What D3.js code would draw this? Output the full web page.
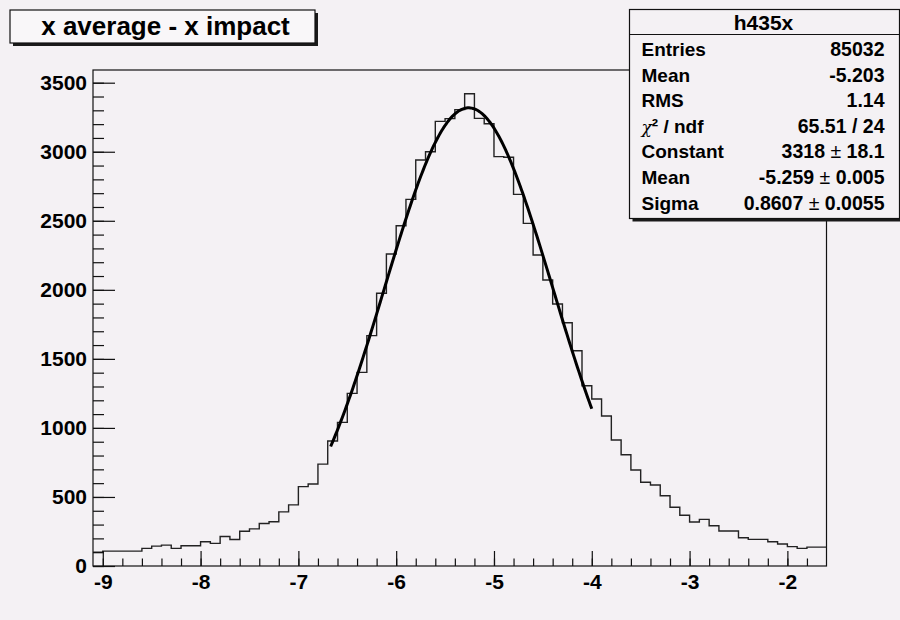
<!DOCTYPE html>
<html><head><meta charset="utf-8">
<script src="https://cdn.jsdelivr.net/npm/d3@7"></script>
<style>
html,body{margin:0;padding:0;background:#f4f1f4;}
svg{display:block;font-family:"Liberation Sans",Arial,Helvetica,sans-serif;font-weight:bold;}
</style></head><body>
<svg id="c" width="900" height="620"></svg>
<script>
// ---------- data ----------
const title = "x average - x impact";
const histName = "h435x";
const binLow = -9.1;
const binWidth = 0.1;
const counts = [
  100, 108, 108, 108, 108, 128, 144, 151, 128, 147,
  147, 176, 164, 214, 192, 252, 269, 308, 320, 392,
  443, 575, 594, 738, 905, 1040, 1250, 1402, 1668, 1975,
  2259, 2464, 2655, 2940, 3000, 3220, 3240, 3305, 3420, 3242,
  3203, 2965, 2960, 2691, 2481, 2252, 2071, 1897, 1762, 1559,
  1305, 1209, 1086, 912, 806, 695, 606, 587, 509, 425,
  367, 319, 338, 292, 253, 253, 205, 193, 193, 176,
  159, 140, 128, 137, 137
];
const xDomain = [-9.1, -1.6];
const yDomain = [0, 3592];
const xMajorTicks = [-9, -8, -7, -6, -5, -4, -3, -2];
const xMinorTicks = d3.range(-9, -1.6, 0.2).map(v => +v.toFixed(1));
const yMajorTicks = [0, 500, 1000, 1500, 2000, 2500, 3000, 3500];
const yMinorTicks = d3.range(0, 3600, 100);
const statLabels = ["Entries", "Mean", "RMS", "χ² / ndf", "Constant", "Mean", "Sigma"];
const statValues = ["85032", "-5.203", "1.14", "65.51 / 24", "3318 ± 18.1", "-5.259 ± 0.005", "0.8607 ± 0.0055"];
const fitParams = [3318, -5.259, 0.8607]; // constant, mean, sigma
const fitRange = [-6.67, -4.0];

// ---------- layout ----------
const F = {left: 93, right: 826.5, top: 70, bottom: 566};
const svg = d3.select("#c");
const bg = "#f4f1f4";
const ink = "#111";

const x = d3.scaleLinear().domain(xDomain).range([F.left, F.right]);
const y = d3.scaleLinear().domain(yDomain).range([F.bottom, F.top]);

// frame
svg.append("rect").attr("x", F.left).attr("y", F.top)
  .attr("width", F.right - F.left).attr("height", F.bottom - F.top)
  .attr("fill", bg).attr("stroke", ink).attr("stroke-width", 1.2);

// histogram step outline
const bins = counts.map((c, i) => ({x0: binLow + i * binWidth, x1: binLow + (i + 1) * binWidth, c}));
let p = d3.path();
bins.forEach((b, i) => {
  if (i === 0) p.moveTo(x(b.x0), y(b.c)); else p.lineTo(x(b.x0), y(b.c));
  p.lineTo(x(b.x1), y(b.c));
});
svg.append("path").attr("d", p.toString()).attr("fill", "none")
  .attr("stroke", "#222").attr("stroke-width", 1.4);

// fit curve
const gauss = v => fitParams[0] * Math.exp(-0.5 * Math.pow((v - fitParams[1]) / fitParams[2], 2));
const fitXs = d3.range(0, 201).map(k => fitRange[0] + (fitRange[1] - fitRange[0]) * k / 200);
svg.append("path").datum(fitXs)
  .attr("d", d3.line().x(v => x(v)).y(v => y(gauss(v))))
  .attr("fill", "none").attr("stroke", "#000").attr("stroke-width", 3);

// axes
const fs = 21;
const noLabel = () => "";
const fmt = d => String(d);
const gx = svg.append("g").attr("transform", `translate(0,${F.bottom})`);
gx.append("g").call(d3.axisBottom(x).tickValues(xMinorTicks).tickSize(-7.5).tickFormat(noLabel));
gx.append("g").call(d3.axisBottom(x).tickValues(xMajorTicks).tickSize(-15).tickPadding(8).tickFormat(fmt));
const gy = svg.append("g").attr("transform", `translate(${F.left},0)`);
gy.append("g").call(d3.axisLeft(y).tickValues(yMinorTicks).tickSize(-11).tickFormat(noLabel));
gy.append("g").call(d3.axisLeft(y).tickValues(yMajorTicks).tickSize(-22).tickPadding(6).tickFormat(fmt));
svg.selectAll(".domain").remove();
svg.selectAll(".tick line").attr("stroke", ink).attr("stroke-width", 1.2);
svg.selectAll(".tick text").attr("fill", "#000").style("font-size", fs + "px")
  .style("font-weight", "bold").style("font-family", '"Liberation Sans",Arial,sans-serif');

// title box
const tb = {x: 10, y: 10, w: 305, h: 33};
svg.append("rect").attr("x", tb.x + 3).attr("y", tb.y + 3).attr("width", tb.w).attr("height", tb.h).attr("fill", "#1a1a1a");
svg.append("rect").attr("x", tb.x).attr("y", tb.y).attr("width", tb.w).attr("height", tb.h)
  .attr("fill", "#f9f7f9").attr("stroke", ink).attr("stroke-width", 1.2);
svg.append("text").attr("x", tb.x + tb.w / 2 + 3).attr("y", 35).attr("text-anchor", "middle")
  .style("font-size", "26px").attr("fill", "#000").text(title);

// stats box
const sb = {x: 629.5, y: 9.5, w: 270, h: 209};
svg.append("rect").attr("x", sb.x + 3).attr("y", sb.y + 3).attr("width", sb.w).attr("height", sb.h).attr("fill", "#1a1a1a");
svg.append("rect").attr("x", sb.x).attr("y", sb.y).attr("width", sb.w).attr("height", sb.h)
  .attr("fill", bg).attr("stroke", ink).attr("stroke-width", 1.2);
svg.append("line").attr("x1", sb.x).attr("x2", sb.x + sb.w).attr("y1", 34.5).attr("y2", 34.5)
  .attr("stroke", ink).attr("stroke-width", 1.2);
svg.append("text").attr("x", 763.5).attr("y", 30).attr("text-anchor", "middle")
  .style("font-size", "21px").text(histName);
const rowY = d3.scaleLinear().domain([0, 6]).range([56, 209.5]);
statLabels.forEach((lab, i) => {
  const t = svg.append("text").attr("x", 641.5).attr("y", rowY(i)).style("font-size", "19px");
  if (lab.startsWith("χ")) {
    t.append("tspan").text("χ").style("font-weight", "normal").style("font-style", "italic").style("font-family", '"DejaVu Serif",serif').style("font-size", "17px");
    t.append("tspan").text("² / ndf");
  } else t.text(lab);
});
statValues.forEach((val, i) => {
  const t = svg.append("text").attr("x", 884.5).attr("y", rowY(i)).attr("text-anchor", "end").style("font-size", "19.5px");
  const parts = val.split("±");
  parts.forEach((s, j) => {
    if (j > 0) t.append("tspan").text(" ± ").style("font-weight", "normal");
    t.append("tspan").text(s.trim());
  });
});
</script>
</body></html>
